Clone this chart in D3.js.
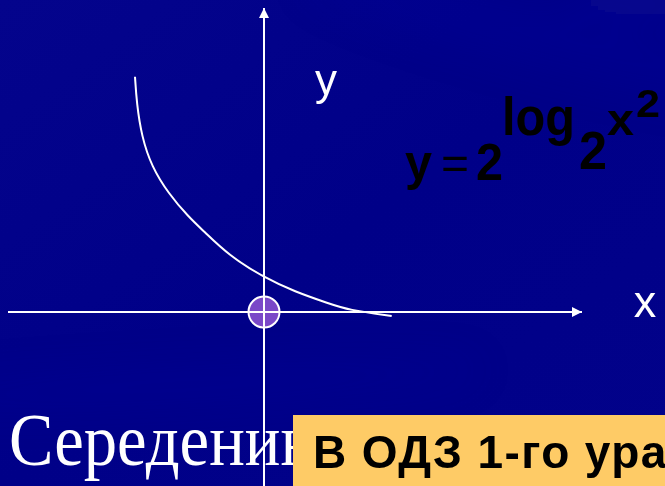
<!DOCTYPE html>
<html>
<head>
<meta charset="utf-8">
<script src="https://cdn.jsdelivr.net/npm/d3@7"></script>
<style>
  body { margin: 0; background: #000088; }
  svg { display: block; }
</style>
</head>
<body>
<div id="canvas"></div>
<script>
// curve (data units, 1 unit ~ 50px)
let curveX = [-2.58, -2.546, -2.446, -2.246, -1.914, -1.514, -1.194, -0.714, -0.014, 0.62, 1.286, 1.686, 2.554]
let curveY = [4.706, 4.174, 3.506, 2.906, 2.374, 1.906, 1.606, 1.14, 0.694, 0.406, 0.174, 0.04, -0.08]
let xDomain = [-5.12, 6.36]
let yDomain = [0, 6.08]
let yBottom = -3.48
let markedPoint = [0, 0]
let axisLabels = ['x', 'y']
let footerText = 'Середенин В.А.'
let boxText = 'В ОДЗ 1-го уравнения'

let W = 665, H = 486

let svg = d3.select('#canvas')
    .append('svg')
    .attr('width', W)
    .attr('height', H)

let defs = svg.append('defs')

// background - dark blue with soft lighter streaks
let bg = defs.append('linearGradient')
    .attr('id', 'bg')
    .attr('x1', 0).attr('y1', 0).attr('x2', 1).attr('y2', 1)
bg.append('stop').attr('offset', '0%').attr('stop-color', '#04048c')
bg.append('stop').attr('offset', '50%').attr('stop-color', '#000088')
bg.append('stop').attr('offset', '100%').attr('stop-color', '#02028a')

defs.append('filter').attr('id', 'soft')
    .attr('x', '-50%').attr('y', '-50%').attr('width', '200%').attr('height', '200%')
    .append('feGaussianBlur').attr('stdDeviation', 20)

svg.append('rect')
    .attr('width', W).attr('height', H)
    .attr('fill', 'url(#bg)')

let streaks = svg.append('g').attr('filter', 'url(#soft)')
streaks.append('ellipse')
    .attr('cx', 560).attr('cy', 40).attr('rx', 260).attr('ry', 30)
    .attr('transform', 'rotate(14,560,40)')
    .attr('fill', '#1818a6').attr('opacity', 0.2)
streaks.append('ellipse')
    .attr('cx', 650).attr('cy', 0).attr('rx', 90).attr('ry', 18)
    .attr('fill', '#1a1aa8').attr('opacity', 0.25)
streaks.append('ellipse')
    .attr('cx', 180).attr('cy', 385).attr('rx', 300).attr('ry', 14)
    .attr('transform', 'rotate(-3,180,385)')
    .attr('fill', '#1414a2').attr('opacity', 0.25)

// scales
let x = d3.scaleLinear().domain(xDomain).range([8, 582])
let y = d3.scaleLinear().domain(yDomain).range([312, 8])

// arrow head
defs.append('marker')
    .attr('id', 'arrow')
    .attr('viewBox', '0 0 10 10')
    .attr('refX', 10).attr('refY', 5)
    .attr('markerWidth', 6).attr('markerHeight', 5)
    .attr('markerUnits', 'strokeWidth')
    .attr('orient', 'auto')
    .append('path')
    .attr('d', 'M0 0 L10 5 L0 10 Z')
    .attr('fill', 'white')

// marked point at origin
svg.append('circle')
    .attr('cx', x(markedPoint[0]))
    .attr('cy', y(markedPoint[1]))
    .attr('r', 15.5)
    .attr('fill', '#7a48c8')
    .attr('stroke', 'white')
    .attr('stroke-width', 2)

// axes
svg.append('line')
    .attr('x1', x(xDomain[0])).attr('y1', y(0))
    .attr('x2', x(xDomain[1])).attr('y2', y(0))
    .attr('stroke', 'white').attr('stroke-width', 2)
    .attr('marker-end', 'url(#arrow)')

svg.append('line')
    .attr('x1', x(0)).attr('y1', y(yBottom))
    .attr('x2', x(0)).attr('y2', y(yDomain[1]))
    .attr('stroke', 'white').attr('stroke-width', 2)
    .attr('marker-end', 'url(#arrow)')

// curve - basis smooths out reading errors
let pts = curveX.map((d, i) => [d, curveY[i]])
svg.append('path')
    .datum(pts)
    .attr('d', d3.line().x(d => x(d[0])).y(d => y(d[1])).curve(d3.curveBasis))
    .attr('fill', 'none')
    .attr('stroke', 'white')
    .attr('stroke-width', 2)

// axis labels
svg.append('text')
    .attr('x', 645).attr('y', 317)
    .attr('text-anchor', 'middle')
    .attr('font-family', 'Liberation Sans, Arial, sans-serif')
    .attr('font-size', 45)
    .attr('fill', 'white')
    .text(axisLabels[0])

svg.append('text')
    .attr('x', 326).attr('y', 95)
    .attr('text-anchor', 'middle')
    .attr('font-family', 'Liberation Sans, Arial, sans-serif')
    .attr('font-size', 44)
    .attr('fill', 'white')
    .text(axisLabels[1])

// formula  y = 2^(log_2 x^2)
let f = svg.append('g')
    .attr('font-family', 'Liberation Sans, Arial, sans-serif')
    .attr('font-weight', 'bold')
    .attr('fill', 'black')

f.append('text').attr('x', 405).attr('y', 180)
    .attr('font-size', 50).attr('textLength', 27).attr('lengthAdjust', 'spacingAndGlyphs')
    .text('y')
f.append('text').attr('x', 441).attr('y', 179)
    .attr('font-size', 44).attr('font-weight', 'normal').attr('textLength', 28).attr('lengthAdjust', 'spacingAndGlyphs')
    .text('=')
f.append('text').attr('x', 476).attr('y', 180)
    .attr('font-size', 52).attr('textLength', 27).attr('lengthAdjust', 'spacingAndGlyphs')
    .text('2')
f.append('text').attr('x', 502).attr('y', 135)
    .attr('font-size', 54).attr('textLength', 73).attr('lengthAdjust', 'spacingAndGlyphs')
    .text('log')
f.append('text').attr('x', 579).attr('y', 169)
    .attr('font-size', 54).attr('textLength', 28).attr('lengthAdjust', 'spacingAndGlyphs')
    .text('2')
f.append('text').attr('x', 607).attr('y', 135)
    .attr('font-size', 44).attr('textLength', 27).attr('lengthAdjust', 'spacingAndGlyphs')
    .text('x')
f.append('text').attr('x', 636).attr('y', 117)
    .attr('font-size', 38).attr('textLength', 24).attr('lengthAdjust', 'spacingAndGlyphs')
    .text('2')

// footer author text (partly covered by the box), a bit condensed
svg.append('text')
    .attr('transform', 'translate(9,465) scale(0.9,1)')
    .attr('font-family', 'Liberation Serif, Times New Roman, serif')
    .attr('font-size', 74)
    .attr('fill', 'white')
    .text(footerText)

// yellow note box
svg.append('rect')
    .attr('x', 293).attr('y', 415)
    .attr('width', W - 293).attr('height', H - 415)
    .attr('fill', '#fecb66')

svg.append('text')
    .attr('x', 313).attr('y', 468)
    .attr('font-family', 'Liberation Sans, Arial, sans-serif')
    .attr('font-weight', 'bold')
    .attr('font-size', 46)
    .attr('letter-spacing', 1.4)
    .attr('fill', 'black')
    .text(boxText)
</script>
</body>
</html>
